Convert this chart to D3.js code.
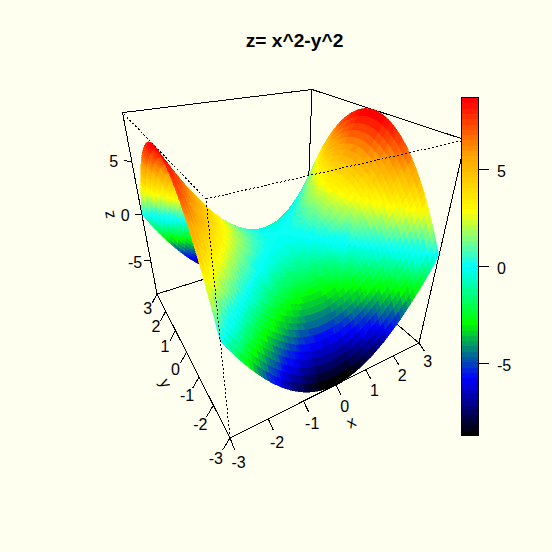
<!DOCTYPE html>
<html><head><meta charset="utf-8">
<script src="https://cdn.jsdelivr.net/npm/d3@7"></script>
<style>html,body{margin:0;padding:0;background:#FFFFF0}svg{display:block}text{font-family:"Liberation Sans",Arial,sans-serif;fill:#000}</style>
</head><body><svg id="c" width="552" height="552"></svg>
<script>
const titleText = "z= x^2-y^2";
const axisTicks = [-3,-2,-1,0,1,2,3];
const zTicks = [-5,0,5];
const keyTicks = [-5,0,5];
const rampColors = ["#000000","#0000FF","#00FF00","#00FFFF","#FFFF00","#FFA500","#FF0000"];
const keyLevels = 64;
const keyRange = [-8.7,8.7];
const xDomain = [-3,3], yDomain = [-3,3], zDomain = [-9,9];
// Surface heights x 100 at x,y = -3.0, -2.9 ... 0.0 (one quadrant; the surface in the title is mirror-symmetric in x and in y)
const zQuadrant = [
[0,59,116,171,224,275,324,371,416,459,500,539,576,611,644,675,704,731,756,779,800,819,836,851,864,875,884,891,896,899,900],
[-59,0,57,112,165,216,265,312,357,400,441,480,517,552,585,616,645,672,697,720,741,760,777,792,805,816,825,832,837,840,841],
[-116,-57,0,55,108,159,208,255,300,343,384,423,460,495,528,559,588,615,640,663,684,703,720,735,748,759,768,775,780,783,784],
[-171,-112,-55,0,53,104,153,200,245,288,329,368,405,440,473,504,533,560,585,608,629,648,665,680,693,704,713,720,725,728,729],
[-224,-165,-108,-53,0,51,100,147,192,235,276,315,352,387,420,451,480,507,532,555,576,595,612,627,640,651,660,667,672,675,676],
[-275,-216,-159,-104,-51,0,49,96,141,184,225,264,301,336,369,400,429,456,481,504,525,544,561,576,589,600,609,616,621,624,625],
[-324,-265,-208,-153,-100,-49,0,47,92,135,176,215,252,287,320,351,380,407,432,455,476,495,512,527,540,551,560,567,572,575,576],
[-371,-312,-255,-200,-147,-96,-47,0,45,88,129,168,205,240,273,304,333,360,385,408,429,448,465,480,493,504,513,520,525,528,529],
[-416,-357,-300,-245,-192,-141,-92,-45,0,43,84,123,160,195,228,259,288,315,340,363,384,403,420,435,448,459,468,475,480,483,484],
[-459,-400,-343,-288,-235,-184,-135,-88,-43,0,41,80,117,152,185,216,245,272,297,320,341,360,377,392,405,416,425,432,437,440,441],
[-500,-441,-384,-329,-276,-225,-176,-129,-84,-41,0,39,76,111,144,175,204,231,256,279,300,319,336,351,364,375,384,391,396,399,400],
[-539,-480,-423,-368,-315,-264,-215,-168,-123,-80,-39,0,37,72,105,136,165,192,217,240,261,280,297,312,325,336,345,352,357,360,361],
[-576,-517,-460,-405,-352,-301,-252,-205,-160,-117,-76,-37,0,35,68,99,128,155,180,203,224,243,260,275,288,299,308,315,320,323,324],
[-611,-552,-495,-440,-387,-336,-287,-240,-195,-152,-111,-72,-35,0,33,64,93,120,145,168,189,208,225,240,253,264,273,280,285,288,289],
[-644,-585,-528,-473,-420,-369,-320,-273,-228,-185,-144,-105,-68,-33,0,31,60,87,112,135,156,175,192,207,220,231,240,247,252,255,256],
[-675,-616,-559,-504,-451,-400,-351,-304,-259,-216,-175,-136,-99,-64,-31,0,29,56,81,104,125,144,161,176,189,200,209,216,221,224,225],
[-704,-645,-588,-533,-480,-429,-380,-333,-288,-245,-204,-165,-128,-93,-60,-29,0,27,52,75,96,115,132,147,160,171,180,187,192,195,196],
[-731,-672,-615,-560,-507,-456,-407,-360,-315,-272,-231,-192,-155,-120,-87,-56,-27,0,25,48,69,88,105,120,133,144,153,160,165,168,169],
[-756,-697,-640,-585,-532,-481,-432,-385,-340,-297,-256,-217,-180,-145,-112,-81,-52,-25,0,23,44,63,80,95,108,119,128,135,140,143,144],
[-779,-720,-663,-608,-555,-504,-455,-408,-363,-320,-279,-240,-203,-168,-135,-104,-75,-48,-23,0,21,40,57,72,85,96,105,112,117,120,121],
[-800,-741,-684,-629,-576,-525,-476,-429,-384,-341,-300,-261,-224,-189,-156,-125,-96,-69,-44,-21,0,19,36,51,64,75,84,91,96,99,100],
[-819,-760,-703,-648,-595,-544,-495,-448,-403,-360,-319,-280,-243,-208,-175,-144,-115,-88,-63,-40,-19,0,17,32,45,56,65,72,77,80,81],
[-836,-777,-720,-665,-612,-561,-512,-465,-420,-377,-336,-297,-260,-225,-192,-161,-132,-105,-80,-57,-36,-17,0,15,28,39,48,55,60,63,64],
[-851,-792,-735,-680,-627,-576,-527,-480,-435,-392,-351,-312,-275,-240,-207,-176,-147,-120,-95,-72,-51,-32,-15,0,13,24,33,40,45,48,49],
[-864,-805,-748,-693,-640,-589,-540,-493,-448,-405,-364,-325,-288,-253,-220,-189,-160,-133,-108,-85,-64,-45,-28,-13,0,11,20,27,32,35,36],
[-875,-816,-759,-704,-651,-600,-551,-504,-459,-416,-375,-336,-299,-264,-231,-200,-171,-144,-119,-96,-75,-56,-39,-24,-11,0,9,16,21,24,25],
[-884,-825,-768,-713,-660,-609,-560,-513,-468,-425,-384,-345,-308,-273,-240,-209,-180,-153,-128,-105,-84,-65,-48,-33,-20,-9,0,7,12,15,16],
[-891,-832,-775,-720,-667,-616,-567,-520,-475,-432,-391,-352,-315,-280,-247,-216,-187,-160,-135,-112,-91,-72,-55,-40,-27,-16,-7,0,5,8,9],
[-896,-837,-780,-725,-672,-621,-572,-525,-480,-437,-396,-357,-320,-285,-252,-221,-192,-165,-140,-117,-96,-77,-60,-45,-32,-21,-12,-5,0,3,4],
[-899,-840,-783,-728,-675,-624,-575,-528,-483,-440,-399,-360,-323,-288,-255,-224,-195,-168,-143,-120,-99,-80,-63,-48,-35,-24,-15,-8,-3,0,1],
[-900,-841,-784,-729,-676,-625,-576,-529,-484,-441,-400,-361,-324,-289,-256,-225,-196,-169,-144,-121,-100,-81,-64,-49,-36,-25,-16,-9,-4,-1,0]
];

const N = 60;
const zAt = (i,j) => zQuadrant[Math.min(i,N-i)][Math.min(j,N-j)]/100;
const gx = d3.scaleLinear([0,N],xDomain);
const gy = d3.scaleLinear([0,N],yDomain);

// cube coordinates
const sx = d3.scaleLinear(xDomain,[0,1]);
const sy = d3.scaleLinear(yDomain,[0,1]);
const sz = d3.scaleLinear(zDomain,[0,1]);
// projective camera: numerator and denominator coefficients for cube coords (a,b,c)
const cam = {u:[230,302.13,0.79,-89.92], v:[438,-2.39,-5.82,-302.68], w:[1,0.27,0.47,-0.32]};
function proj(a,b,c){
  const w = cam.w[0]+cam.w[1]*a+cam.w[2]*b+cam.w[3]*c;
  return [(cam.u[0]+cam.u[1]*a+cam.u[2]*b+cam.u[3]*c)/w,(cam.v[0]+cam.v[1]*a+cam.v[2]*b+cam.v[3]*c)/w];
}
const p3 = (x,y,z,da=0,db=0,dc=0) => proj(sx(x)+da,sy(y)+db,sz(z)+dc);

const ramp = d3.scaleLinear(d3.range(rampColors.length).map(i=>i/(rampColors.length-1)),rampColors).interpolate(d3.interpolateRgb);
const levelColors = d3.range(keyLevels).map(k=>ramp(k/(keyLevels-1)));
const colorOf = d3.scaleQuantize(keyRange,levelColors);

const svg = d3.select("#c");
svg.append("rect").attr("width",552).attr("height",552).attr("fill","#FFFFF0");
svg.append("text").attr("x",294.5).attr("y",46.5).attr("text-anchor","middle").attr("font-weight","bold").attr("font-size",19.2).text(titleText);

const [xa,xb]=xDomain,[ya,yb]=yDomain,[za,zb]=zDomain;
const seg = (g,p,q,dash) => g.append("line").attr("x1",p[0]).attr("y1",p[1]).attr("x2",q[0]).attr("y2",q[1])
  .attr("stroke","#000").attr("stroke-width",1).attr("shape-rendering","crispEdges").attr("stroke-dasharray",dash||null);

// back box
const back = svg.append("g");
[[[xa,yb,zb],[xb,yb,zb]],[[xb,yb,zb],[xb,ya,zb]],[[xb,yb,za],[xb,yb,zb]],[[xa,yb,za],[xb,yb,za]],[[xb,ya,za],[xb,yb,za]]]
  .forEach(([p,q])=>seg(back,p3(...p),p3(...q)));

// facets, far to near
const facets=[];
for(let i=N-1;i>=0;i--) for(let j=N-1;j>=0;j--){
  const c=[[i,j],[i+1,j],[i+1,j+1],[i,j+1]];
  const pts=c.map(([m,n])=>p3(gx(m),gy(n),zAt(m,n)));
  facets.push({pts,col:colorOf(d3.mean(c,([m,n])=>zAt(m,n)))});
}
svg.append("g").selectAll("polygon").data(facets).join("polygon")
  .attr("points",d=>d.pts.map(p=>p[0].toFixed(2)+","+p[1].toFixed(2)).join(" "))
  .attr("fill",d=>d.col).attr("stroke",d=>d.col).attr("stroke-width",0.6).attr("shape-rendering","crispEdges");

// front box
const front = svg.append("g");
[[[xa,ya,za],[xa,ya,zb]],[[xa,ya,zb],[xa,yb,zb]],[[xa,ya,zb],[xb,ya,zb]]]
  .forEach(([p,q])=>seg(front,p3(...p),p3(...q),"2,2"));
[[[xa,ya,za],[xb,ya,za]],[[xa,ya,za],[xa,yb,za]],[[xa,yb,za],[xa,yb,zb]],[[xb,ya,za],[xb,ya,zb]]]
  .forEach(([p,q])=>seg(front,p3(...p),p3(...q)));

// axes
const ax = svg.append("g").attr("font-size",16);
const label=(p,t,rot)=>ax.append("text").attr("text-anchor","middle").attr("dominant-baseline","central")
  .attr("transform",`translate(${p[0]},${p[1]})`+(rot?` rotate(${rot})`:"")).text(t);
const txv=[0,-0.04,-0.02], tyv=[-0.035,0,-0.05], tzv=[-0.03,0.02,0];
const lxv=[0,-0.07,-0.06], lyv=[-0.065,0,-0.08], lzv=[-0.075,0.03,0];
axisTicks.forEach(t=>{
  seg(ax,p3(t,ya,za),p3(t,ya,za,...txv));
  label(p3(t,ya,za,...lxv),String(t));
  seg(ax,p3(xa,t,za),p3(xa,t,za,...tyv));
  label(p3(xa,t,za,...lyv),String(t));
});
zTicks.forEach(t=>{
  seg(ax,p3(xa,yb,t),p3(xa,yb,t,...tzv));
  label(p3(xa,yb,t,...lzv),String(t));
});
label(p3(0,ya,za,0,-0.12,-0.105),"x",-27);
label(p3(xa,0,za,-0.12,0,-0.14),"y",63);
label(p3(xa,yb,0,-0.145,0.076,0),"z",-100);

// colour key
const keyY = d3.scaleLinear(keyRange,[435.7,97.7]);
const keyX = [461.5,478];
const key = svg.append("g");
const step=(keyRange[1]-keyRange[0])/keyLevels;
key.selectAll("rect").data(levelColors).join("rect")
  .attr("x",keyX[0]).attr("width",keyX[1]-keyX[0])
  .attr("y",(d,i)=>keyY(keyRange[0]+(i+1)*step)).attr("height",(d,i)=>keyY(keyRange[0]+i*step)-keyY(keyRange[0]+(i+1)*step)+0.5)
  .attr("fill",d=>d).attr("shape-rendering","crispEdges");
key.append("rect").attr("x",keyX[0]).attr("y",keyY(keyRange[1])).attr("width",keyX[1]-keyX[0]).attr("height",keyY(keyRange[0])-keyY(keyRange[1]))
  .attr("fill","none").attr("stroke","#000").attr("shape-rendering","crispEdges");
keyTicks.forEach(t=>{
  seg(key,[keyX[1],keyY(t)],[489,keyY(t)]);
  key.append("text").attr("x",497).attr("y",keyY(t)+1.5).attr("dominant-baseline","central").attr("font-size",16).text(String(t));
});
</script></body></html>
